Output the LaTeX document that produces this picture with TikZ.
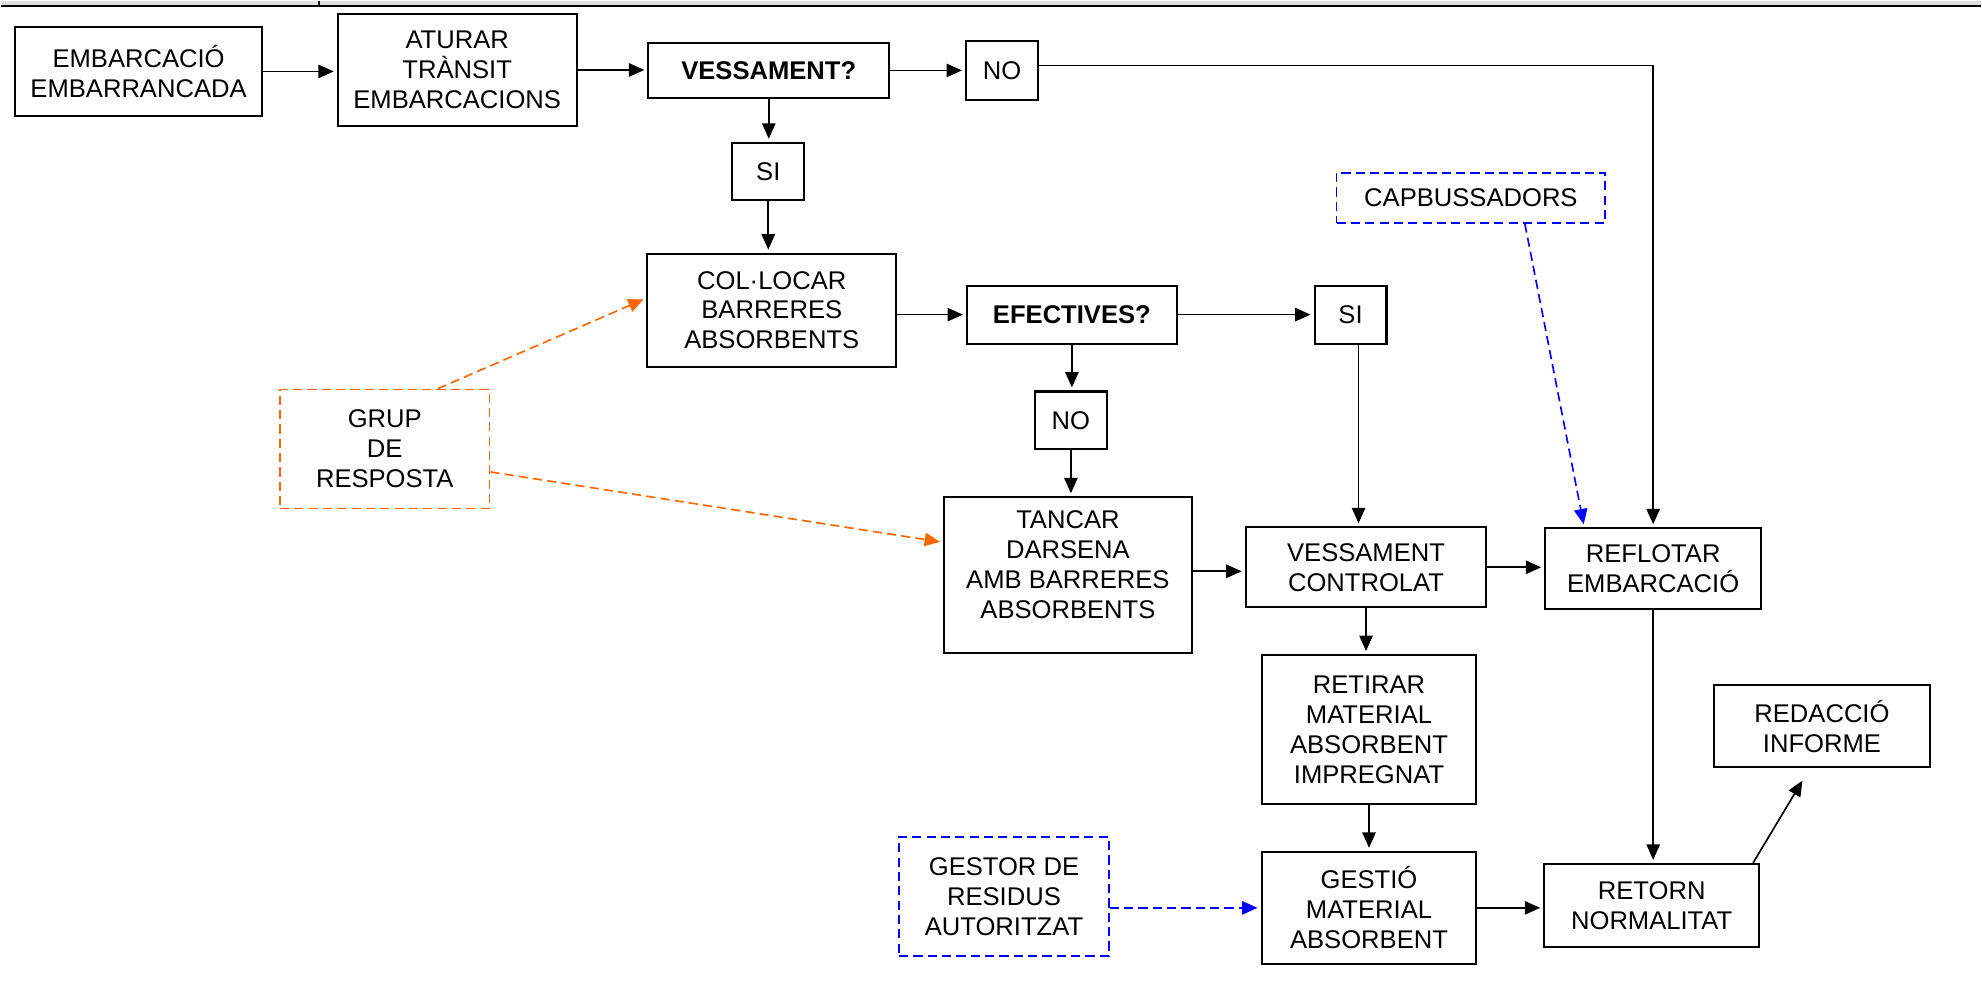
\documentclass[tikz,border=0pt]{standalone}
\usepackage{fontspec}
\setmainfont{Liberation Sans}
\usepackage{xcolor}
\usetikzlibrary{positioning,arrows.meta}
\definecolor{ctaronja}{HTML}{FF6600}
\definecolor{cblau}{HTML}{0000FF}
\newcommand{\pxl}{0.4878pt}

\begin{document}
\begin{tikzpicture}[x=0.4878pt,y=-0.4878pt,
        font=\fontsize{12.5}{14.6}\selectfont,
        caixa/.style={draw,line width=1pt,align=center,inner sep=0pt},
        mida/.style 2 args={minimum width=#1*\pxl,minimum height=#2*\pxl},
        extern/.style={draw=#1,dash pattern=on 4.5pt off 2.5pt,line width=0.8pt,align=center,inner sep=0pt},
        fletxa/.style={-{Triangle[length=7.5pt,width=6.5pt]},line width=0.8pt,shorten >=1.5pt},
        extline/.style={draw=#1,dash pattern=on 4.5pt off 2.5pt,line width=0.8pt}]
        \fill[white] (0,0) rectangle (1982,983);
        \fill[gray!25] (0,0) rectangle (1982,4);
        \draw[line width=2.5*\pxl] (0,5) -- (1982,5);
        \draw[line width=2*\pxl] (318,0) -- (318,5);
        % fila de dalt
        \node[caixa,mida={247}{89}] (emb) at (137.5,70.5) {EMBARCACIÓ\\EMBARRANCADA};
        \node[caixa,mida={239}{112}] (atur) at (456.5,69) {ATURAR\\TRÀNSIT\\EMBARCACIONS};
        \node[caixa,mida={241}{55},font=\fontsize{12.5}{14.6}\selectfont\bfseries] (vess) at (768.5,69.5) {VESSAMENT?};
        \node[caixa,mida={72}{59}] (no1) at (1002,69.5) {NO};
        \node[caixa,mida={72}{57}] (si1) at (768,170.5) {SI};
        \node[caixa,mida={249}{113}] (col) at (771.5,309.5) {COL·LOCAR\\BARRERES\\ABSORBENTS};
        \node[caixa,mida={210}{58},font=\fontsize{12.5}{14.6}\selectfont\bfseries] (efec) at (1072,314) {EFECTIVES?};
        \node[caixa,mida={72}{58}] (si2) at (1351,314) {SI};
        \node[caixa,mida={72}{58}] (no2) at (1071,420) {NO};
        \node[caixa,mida={248}{156}] (tanc) at (1068,575) {TANCAR\\DARSENA\\AMB BARRERES\\ABSORBENTS\\[-4pt]\mbox{}};
        \node[caixa,mida={241}{80}] (vc) at (1366.5,567) {VESSAMENT\\CONTROLAT};
        \node[caixa,mida={216}{81}] (refl) at (1654,568.5) {REFLOTAR\\EMBARCACIÓ};
        \node[caixa,mida={215}{149}] (ret) at (1369.5,729.5) {RETIRAR\\MATERIAL\\ABSORBENT\\IMPREGNAT};
        \node[caixa,mida={215}{112}] (gest) at (1369.5,908) {GESTIÓ\\MATERIAL\\ABSORBENT};
        \node[caixa,mida={215}{83}] (retn) at (1652.5,905.5) {RETORN\\NORMALITAT};
        \node[caixa,mida={216}{82}] (red) at (1823,726) {REDACCIÓ\\INFORME};
        % agents externs
        \node[extern=cblau,mida={269}{50}] (cap) at (1471.5,197) {CAPBUSSADORS};
        \node[extern=ctaronja,mida={210}{119}] (grup) at (384,448.5) {GRUP\\DE\\RESPOSTA};
        \node[extern=cblau,mida={210}{119}] (gestor) at (1004,896.5) {GESTOR DE\\RESIDUS\\AUTORITZAT};
        % connexions
        \draw[fletxa] (emb.east) -- (emb.east -| atur.west);
        \draw[fletxa] (atur.east) -- (atur.east -| vess.west);
        \draw[fletxa] (vess.east) -- (vess.east -| no1.west);
        \draw[fletxa] (vess.south) -- (vess.south |- si1.north);
        \draw[fletxa] (si1.south) -- (si1.south |- col.north);
        \draw[fletxa] ([yshift=5*\pxl]no1.east) -| (refl.north);
        \draw[fletxa] (col.east |- efec.west) -- (efec.west);
        \draw[fletxa] (efec.east) -- (si2.west);
        \draw[fletxa] (efec.south) -- (efec.south |- no2.north);
        \draw[fletxa] (no2.south) -- (no2.south |- tanc.north);
        \draw[fletxa] ([xshift=8*\pxl]si2.south) -- ([xshift=8*\pxl]si2.south |- vc.north);
        \draw[fletxa] ([yshift=-4*\pxl]tanc.east |- vc.west) -- ([yshift=-4*\pxl]vc.west);
        \draw[fletxa] (vc.east) -- (vc.east -| refl.west);
        \draw[fletxa] (vc.south) -- (vc.south |- ret.north);
        \draw[fletxa] (ret.south) -- (gest.north);
        \draw[fletxa] (gest.east) -- (gest.east -| retn.west);
        \draw[fletxa] (refl.south) -- (refl.south |- retn.north);
        \draw[fletxa] ([xshift=-7*\pxl]retn.north east) -- ([xshift=-18*\pxl,yshift=-10*\pxl]red.south);
        \draw[fletxa,extline=ctaronja] ([xshift=53*\pxl]grup.north) -- ([yshift=12*\pxl]col.west);
        \draw[fletxa,extline=ctaronja] ([yshift=-23*\pxl]grup.east) -- ([yshift=33*\pxl]tanc.west);
        \draw[fletxa,extline=cblau] ([xshift=54*\pxl]cap.south) -- ([xshift=-69*\pxl]refl.north);
        \draw[fletxa,extline=cblau] (gestor.east |- gest.west) -- (gest.west);
\end{tikzpicture}
\end{document}
